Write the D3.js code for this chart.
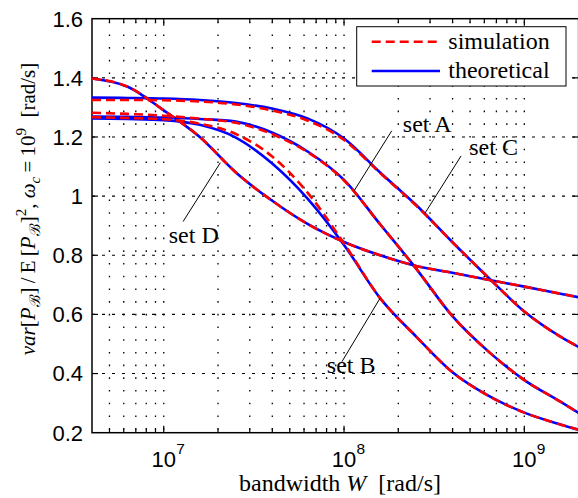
<!DOCTYPE html>
<html><head><meta charset="utf-8">
<script src="https://cdn.jsdelivr.net/npm/d3@7"></script>
<style>body{margin:0;background:#fff}svg{display:block}</style>
</head><body>
<svg id="chart" width="578" height="498"></svg>
<script>
// ---- data ----
const bandwidth = [4e6, 6.31e6, 1e7, 1.585e7, 2.512e7, 3.981e7, 6.31e7, 1e8, 1.585e8, 2.512e8, 3.981e8, 6.31e8, 1e9, 1.585e9, 2e9];
const theoryA = [1.269, 1.268, 1.266, 1.261, 1.252, 1.215, 1.150, 1.055, 0.905, 0.755, 0.595, 0.475, 0.378, 0.305, 0.267];
const theoryB = [1.263, 1.261, 1.257, 1.241, 1.198, 1.111, 0.990, 0.835, 0.655, 0.525, 0.405, 0.325, 0.268, 0.228, 0.210];
const theoryC = [1.333, 1.332, 1.330, 1.325, 1.315, 1.296, 1.262, 1.195, 1.080, 0.970, 0.845, 0.725, 0.610, 0.525, 0.490];
const theoryD = [1.398, 1.370, 1.290, 1.200, 1.080, 0.985, 0.905, 0.845, 0.800, 0.764, 0.741, 0.717, 0.694, 0.670, 0.658];
const simA = [1.282, 1.278, 1.272, 1.262, 1.248, 1.210, 1.148, 1.053, 0.905, 0.755, 0.595, 0.475, 0.378, 0.305, 0.267];
const simB = [1.267, 1.264, 1.260, 1.245, 1.210, 1.135, 1.010, 0.840, 0.655, 0.525, 0.405, 0.325, 0.268, 0.228, 0.210];
const simC = [1.325, 1.325, 1.324, 1.320, 1.310, 1.290, 1.255, 1.190, 1.078, 0.968, 0.845, 0.725, 0.610, 0.525, 0.490];
const simD = [1.398, 1.370, 1.290, 1.200, 1.080, 0.985, 0.905, 0.845, 0.800, 0.764, 0.741, 0.717, 0.694, 0.670, 0.658];
const xTickValues = [1e7, 1e8, 1e9];
const xTickExponents = ["7", "8", "9"];
const yTickValues = [0.2, 0.4, 0.6, 0.8, 1.0, 1.2, 1.4, 1.6];
const yTickLabels = ["0.2", "0.4", "0.6", "0.8", "1", "1.2", "1.4", "1.6"];
const legendLabels = ["simulation", "theoretical"];
const setLabels = ["set A", "set B", "set C", "set D"];
// annotation anchors in data units: text [W, value], pointer from/to [W, value]
const labelText = [[2.12e8, 1.218], [8.03e7, 0.401], [4.95e8, 1.139], [1.066e7, 0.842]];
const pointerFrom = [[1.84e8, 1.221], [9.73e7, 0.440], [4.46e8, 1.136], [1.28e7, 0.914]];
const pointerTo = [[1.14e8, 1.019], [1.585e8, 0.655], [2.81e8, 0.942], [2.06e7, 1.113]];

// ---- layout ----
const svg = d3.select("#chart");
const L = 92, T = 18.7, R = 578.6, B = 432.7;
const x = d3.scaleLog().domain([4e6, 2e9]).range([L, R]);
const y = d3.scaleLinear().domain([0.2, 1.6]).range([B, T]);
const serif = "'Liberation Serif','Times New Roman',serif";
const sans = "'Liberation Sans',Arial,sans-serif";

svg.append("rect").attr("width", 578).attr("height", 498).attr("fill", "#fff");

// grid
const grid = svg.append("g");
const allX = x.ticks().filter(v => x(v) > L + 0.5 && x(v) < R - 0.5);
grid.selectAll("line.vg").data(allX).join("line")
  .attr("x1", d => x(d)).attr("x2", d => x(d)).attr("y1", B).attr("y2", T)
  .attr("stroke", "#000").attr("stroke-width", 1.3).attr("stroke-dasharray", "1.6 11.1")
  .attr("stroke-dashoffset", -3);
grid.selectAll("line.hg").data(yTickValues.slice(1, -1)).join("line")
  .attr("x1", L).attr("x2", R).attr("y1", d => y(d)).attr("y2", d => y(d))
  .attr("stroke", "#000").attr("stroke-width", 1.1).attr("stroke-dasharray", "3 7");

// axes frame
svg.append("rect").attr("x", L).attr("y", T).attr("width", R - L).attr("height", B - T)
  .attr("fill", "none").attr("stroke", "#000").attr("stroke-width", 1.5);

// ticks
const tk = svg.append("g").attr("stroke", "#000").attr("stroke-width", 1.2);
allX.forEach(v => {
  const major = Math.abs(Math.log10(v) - Math.round(Math.log10(v))) < 1e-9;
  const len = major ? 7 : 4;
  tk.append("line").attr("x1", x(v)).attr("x2", x(v)).attr("y1", B).attr("y2", B - len);
  tk.append("line").attr("x1", x(v)).attr("x2", x(v)).attr("y1", T).attr("y2", T + len);
});
yTickValues.slice(1, -1).forEach(v => {
  tk.append("line").attr("x1", L).attr("x2", L + 6).attr("y1", y(v)).attr("y2", y(v));
  tk.append("line").attr("x1", R).attr("x2", R - 6).attr("y1", y(v)).attr("y2", y(v));
});

// tick labels
yTickValues.forEach((v, i) => {
  svg.append("text").attr("x", 83).attr("y", y(v)).attr("dy", "0.36em")
    .attr("text-anchor", "end").attr("font-family", sans).attr("font-size", 22)
    .text(yTickLabels[i]);
});
xTickValues.forEach((v, i) => {
  svg.append("text").attr("x", x(v)).attr("y", 466.5).attr("text-anchor", "middle")
    .attr("font-family", sans).attr("font-size", 22).text("10");
  svg.append("text").attr("x", x(v) + 12.5).attr("y", 454)
    .attr("font-family", sans).attr("font-size", 15.5).text(xTickExponents[i]);
});

// x label
const xl = svg.append("text").attr("x", 340).attr("y", 491).attr("text-anchor", "middle")
  .attr("font-family", serif).attr("font-size", 24);
xl.append("tspan").text("bandwidth ");
xl.append("tspan").attr("font-style", "italic").text("W");
xl.append("tspan").text("\u00a0 [rad/s]");

// y label (rotated)
const segs = [
  ["var", "i", 0], ["[", "n", 0], ["P", "i", 0], ["\u212C", "n", 1], ["]", "n", 0], ["\u2009/\u2009E\u2009", "n", 0],
  ["[", "n", 0], ["P", "i", 0], ["\u212C", "n", 1], ["]", "n", 0], ["2", "n", -1], [", ", "n", 0],
  ["\u03C9", "i", 0], ["c", "i", 1], ["\u2009=\u200910", "n", 0], ["9", "n", -1], ["\u00a0 [rad/s]", "n", 0]
];
const yl = svg.append("text").attr("transform", "translate(35,209) rotate(-90)")
  .attr("text-anchor", "middle").attr("font-family", serif).attr("font-size", 21);
let prev = 0;
const off = {"0": 0, "1": 5, "-1": -9};
segs.forEach(([t, st, pos]) => {
  const sp = yl.append("tspan").text(t).attr("dy", off[pos] - prev);
  if (st === "i") sp.attr("font-style", "italic");
  if (pos !== 0) sp.attr("font-size", 15);
  prev = off[pos];
});

// curves
const clip = svg.append("clipPath").attr("id", "clip").append("rect")
  .attr("x", L).attr("y", T).attr("width", R - L).attr("height", B - T);
const line = d3.line().x((d, i) => x(bandwidth[i])).y(d => y(d)).curve(d3.curveMonotoneX);
const plot = svg.append("g").attr("clip-path", "url(#clip)");
[theoryA, theoryB, theoryC, theoryD].forEach(s => {
  plot.append("path").attr("d", line(s)).attr("fill", "none").attr("stroke", "#0000ff").attr("stroke-width", 2.6);
});
[simA, simB, simC, simD].forEach(s => {
  plot.append("path").attr("d", line(s)).attr("fill", "none").attr("stroke", "#ff0000")
    .attr("stroke-width", 2.6).attr("stroke-dasharray", "9 5");
});

// annotations
setLabels.forEach((lab, i) => {
  svg.append("line").attr("x1", x(pointerFrom[i][0])).attr("y1", y(pointerFrom[i][1]))
    .attr("x2", x(pointerTo[i][0])).attr("y2", y(pointerTo[i][1]))
    .attr("stroke", "#000").attr("stroke-width", 1);
  svg.append("text").attr("x", x(labelText[i][0])).attr("y", y(labelText[i][1]))
    .attr("font-family", serif).attr("font-size", 24).text(lab);
});

// legend
const lg = svg.append("g");
lg.append("rect").attr("x", 356.7).attr("y", 26.7).attr("width", 209.3).attr("height", 59.3)
  .attr("fill", "#fff").attr("stroke", "#000").attr("stroke-width", 1);
const legendStyles = [{c: "#ff0000", dash: "9 5"}, {c: "#0000ff", dash: null}];
legendLabels.forEach((lab, i) => {
  const yy = 41.7 + i * 29.3;
  const ln = lg.append("line").attr("x1", 371.7).attr("x2", 440).attr("y1", yy).attr("y2", yy)
    .attr("stroke", legendStyles[i].c).attr("stroke-width", 2.6);
  if (legendStyles[i].dash) ln.attr("stroke-dasharray", legendStyles[i].dash);
  lg.append("text").attr("x", 448.3).attr("y", yy + 7).attr("font-family", serif)
    .attr("font-size", 24).text(lab);
});
</script>
</body></html>
